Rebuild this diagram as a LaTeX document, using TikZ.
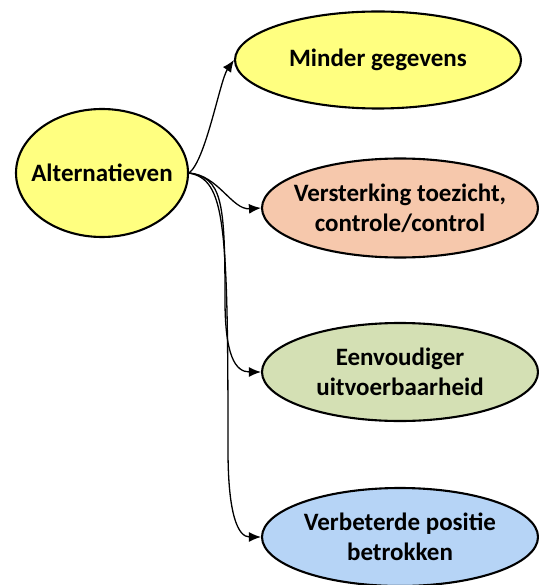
\documentclass[tikz,border=0pt]{standalone}
\usepackage{fontspec}
\setmainfont{Carlito}
\usetikzlibrary{shapes.geometric, arrows.meta}

\definecolor{altyellow}{HTML}{FFFF80}
\definecolor{peach}{HTML}{F6C8AC}
\definecolor{sage}{HTML}{D4E0B4}
\definecolor{skyblue}{HTML}{B6D4F6}

\tikzset{
    bubble/.style={draw=black, line width=2.1pt, ellipse, inner sep=-20pt, align=center, font=\bfseries\fontsize{25}{30}\selectfont},
    link/.style={-{Latex[length=12pt, width=10pt]}, line width=1.3pt, black}
}

\begin{document}
\begin{tikzpicture}[x=1pt, y=1pt]
            \useasboundingbox (0,0) rectangle (538,-585);
            \node[bubble, fill=altyellow, minimum width=172pt, minimum height=128pt](alt) at (102,-173){Alternatieven};
            \node[bubble, fill=altyellow, minimum width=286pt, minimum height=97pt](minder) at (378,-60){Minder gegevens};
            \node[bubble, fill=peach, minimum width=276pt, minimum height=99pt](toezicht) at (400,-208){Versterking toezicht,\\controle/control};
            \node[bubble, fill=sage, minimum width=276pt, minimum height=98pt](eenv) at (400,-372){Eenvoudiger\\uitvoerbaarheid};
            \node[bubble, fill=skyblue, minimum width=276pt, minimum height=98pt](positie) at (400,-537){Verbeterde positie\\betrokken};
            % connectors
            \coordinate (down1) at (225,-300);
            \coordinate (down2) at (228,-450);
            \draw[link] (alt.east) .. controls (206,-160) and (220,-80) .. (minder.west);
            \draw[link] (alt.east) .. controls (218,-175) and (232,-210) .. (toezicht.west);
            \draw[link] (alt.east) .. controls (222,-178) and (225,-200) .. (down1) .. controls (225,-355) and (235,-372) .. (eenv.west);
            \draw[link] (alt.east) .. controls (225,-180) and (228,-220) .. (down2) .. controls (228,-515) and (238,-537) .. (positie.west);
        \end{tikzpicture}
\end{document}
